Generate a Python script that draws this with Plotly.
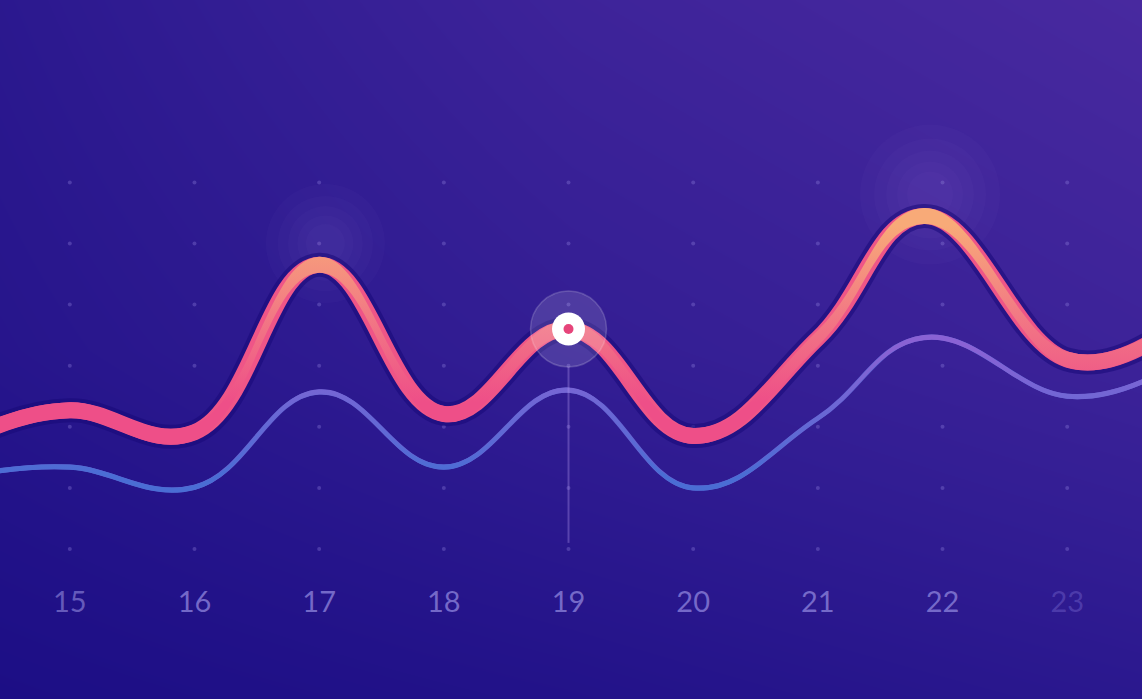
import numpy as np
import plotly.graph_objects as go

# ---------------- data ----------------
X_POS = [14.4, 15, 16, 17, 18, 19, 20, 21, 21.85, 23, 23.65]
PINK = [20.0, 22.7, 19.1, 46.5, 22.1, 36.0, 18.5, 34.5, 54.5, 31.0, 33.6]
BLUE = [12.7, 13.4, 10.1, 25.7, 13.4, 26.0, 10.0, 21.4, 34.6, 25.0, 27.8]

TICK_VALS = [15, 16, 17, 18, 19, 20, 21, 22, 23]
TICK_LABELS = ["15", "16", "17", "18", "19", "20", "21", "22", "23"]
GRID_ROWS = [0, 10, 20, 30, 40, 50, 60]
HIGHLIGHT_X = 19
GLOW_X = [17.05, 21.9]
GLOW_Y = [50.0, 58.0]

X_RANGE = [14.44, 23.6]
Y_RANGE = [-24.55, 89.85]

W, H = 1142, 699
px_per_unit = H / (Y_RANGE[1] - Y_RANGE[0])
SMOOTH = 1.2

fig = go.Figure()

# ---------------- background gradient ----------------
bx = np.linspace(X_RANGE[0], X_RANGE[1], 3)
by = np.linspace(Y_RANGE[0], Y_RANGE[1], 3)
bz = [[0.00, 0.14, 0.32],
      [0.24, 0.52, 0.74],
      [0.34, 0.76, 1.00]]
fig.add_trace(go.Heatmap(x=bx, y=by, z=bz, zsmooth="best", showscale=False,
                         colorscale=[[0, "#1c0e85"], [0.5, "#321d93"], [1, "#48299f"]],
                         hoverinfo="skip"))

# ---------------- dot grid ----------------
gx, gy = np.meshgrid(TICK_VALS, GRID_ROWS)
fig.add_trace(go.Scatter(x=gx.ravel(), y=gy.ravel(), mode="markers",
                         marker=dict(size=4, color="rgba(150,135,225,0.33)"),
                         hoverinfo="skip", showlegend=False))

# ---------------- soft glows above peaks ----------------
for s in [140, 112, 88, 66, 46]:
    fig.add_trace(go.Scatter(x=GLOW_X, y=GLOW_Y, mode="markers",
                             marker=dict(size=[s * 0.85, s], color="rgba(205,160,255,0.035)",
                                         line=dict(width=0)),
                             hoverinfo="skip", showlegend=False))

# ---------------- highlight vertical line ----------------
hy = PINK[X_POS.index(HIGHLIGHT_X)]
fig.add_shape(type="line", x0=HIGHLIGHT_X, x1=HIGHLIGHT_X,
              y0=hy - 38 / px_per_unit, y1=GRID_ROWS[0] + 1,
              xref="x", yref="y", line=dict(color="rgba(175,150,235,0.35)", width=2), layer="above")

# ---------------- blue line ----------------
d_b = 2.6 / px_per_unit
fig.add_trace(go.Scatter(x=X_POS, y=BLUE, mode="lines",
                         line=dict(shape="spline", smoothing=SMOOTH, width=5, color="#6464d2"),
                         hoverinfo="skip", showlegend=False))
fig.add_trace(go.Scatter(x=X_POS, y=[v + d_b for v in BLUE], mode="lines",
                         line=dict(shape="spline", smoothing=SMOOTH, width=0),
                         hoverinfo="skip", showlegend=False))
fig.add_trace(go.Scatter(x=X_POS, y=[v - d_b for v in BLUE], mode="lines",
                         line=dict(shape="spline", smoothing=SMOOTH, width=0),
                         fill="tonexty",
                         fillgradient=dict(type="vertical", start=12, stop=33,
                                           colorscale=[[0, "#4a6dd4"], [1, "#8a62d4"]]),
                         hoverinfo="skip", showlegend=False))

# ---------------- pink line ----------------
d_p = 8.0 / px_per_unit
fig.add_trace(go.Scatter(x=X_POS, y=PINK, mode="lines",
                         line=dict(shape="spline", smoothing=SMOOTH, width=24, color="rgba(24,10,120,0.55)"),
                         hoverinfo="skip", showlegend=False))
fig.add_trace(go.Scatter(x=X_POS, y=PINK, mode="lines",
                         line=dict(shape="spline", smoothing=SMOOTH, width=16, color="#ef5587"),
                         hoverinfo="skip", showlegend=False))
fig.add_trace(go.Scatter(x=X_POS, y=[v + d_p for v in PINK], mode="lines",
                         line=dict(shape="spline", smoothing=SMOOTH, width=0),
                         hoverinfo="skip", showlegend=False))
fig.add_trace(go.Scatter(x=X_POS, y=[v - d_p for v in PINK], mode="lines",
                         line=dict(shape="spline", smoothing=SMOOTH, width=0),
                         fill="tonexty",
                         fillgradient=dict(type="vertical", start=24, stop=53,
                                           colorscale=[[0, "#ee4f88"], [0.5, "#f27a84"], [1, "#f8aa78"]]),
                         hoverinfo="skip", showlegend=False))

# ---------------- highlight marker ----------------
fig.add_trace(go.Scatter(x=[HIGHLIGHT_X], y=[hy], mode="markers",
                         marker=dict(size=76, color="rgba(255,255,255,0.13)",
                                     line=dict(width=1.5, color="rgba(255,255,255,0.18)")),
                         hoverinfo="skip", showlegend=False))
fig.add_trace(go.Scatter(x=[HIGHLIGHT_X], y=[hy], mode="markers",
                         marker=dict(size=33, color="#ffffff", line=dict(width=0)),
                         hoverinfo="skip", showlegend=False))
fig.add_trace(go.Scatter(x=[HIGHLIGHT_X], y=[hy], mode="markers",
                         marker=dict(size=10, color="#e6457a", line=dict(width=0)),
                         hoverinfo="skip", showlegend=False))

# ---------------- axes ----------------
label_colors = ["rgba(125,115,205,0.85)"] + ["rgba(135,125,215,0.9)"] * 7 + ["rgba(110,95,200,0.55)"]
ticktext = [f'<span style="color:{c}">{t}</span>' for t, c in zip(TICK_LABELS, label_colors)]

fig.update_layout(
    width=W, height=H,
    margin=dict(l=0, r=0, t=0, b=0),
    paper_bgcolor="#26158c", plot_bgcolor="#26158c",
    showlegend=False,
    xaxis=dict(range=X_RANGE, domain=[0, 1], anchor="free", position=0.168,
               tickvals=TICK_VALS, ticktext=ticktext, ticks="",
               showgrid=False, zeroline=False, showline=False,
               tickfont=dict(family="Lato", size=29, color="rgba(135,125,215,0.9)"),
               fixedrange=True),
    yaxis=dict(range=Y_RANGE, domain=[0, 1], visible=False, fixedrange=True),
)

fig.write_html("out.html", config={"displayModeBar": False})
